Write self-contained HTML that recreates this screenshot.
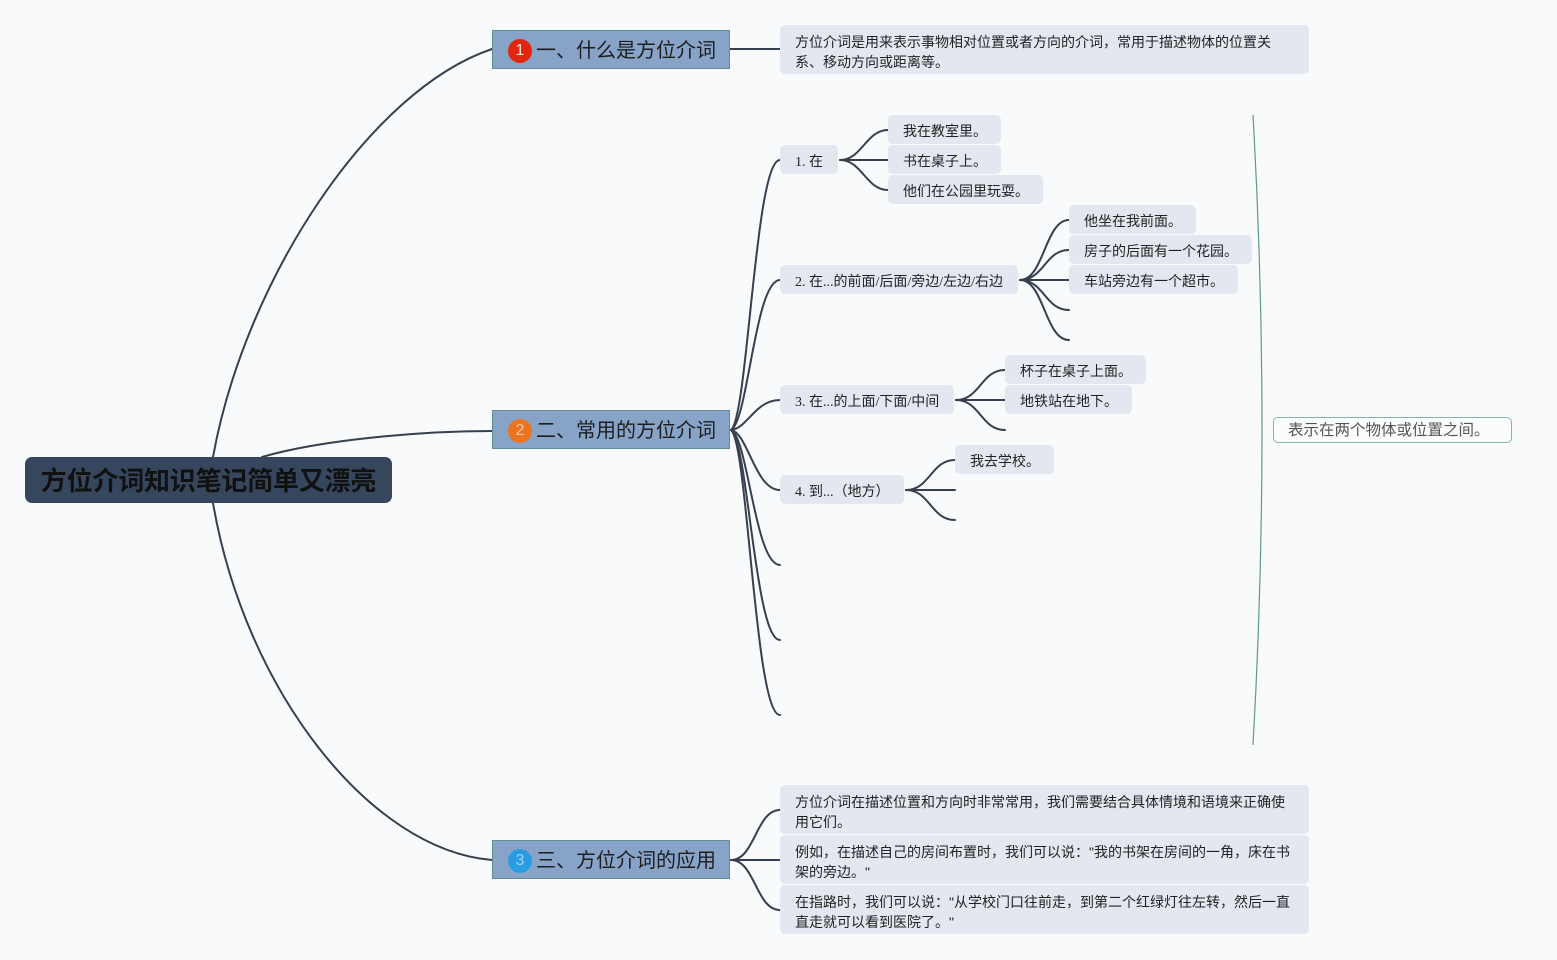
<!DOCTYPE html>
<html>
<head>
<meta charset="utf-8">
<style>
  html, body { margin: 0; padding: 0; }
  body {
    width: 1557px; height: 960px; position: relative; overflow: hidden;
    background: #f9fafb;
    font-family: "Liberation Sans", "Noto Sans CJK SC", sans-serif;
  }
  svg.lines { position: absolute; left: 0; top: 0; }
  .root {
    position: absolute; left: 25px; top: 457px; width: 367px; height: 46px;
    background: #36465d; border-radius: 7px;
    font-weight: bold; font-size: 26px; line-height: 48px; color: #111;
    text-align: center; letter-spacing: -0.2px;
  }
  .l1 {
    position: absolute; left: 492px; width: 236px; height: 37px;
    background: #87a3c8; border: 1px solid #5f8f95;
    font-size: 20px; line-height: 41px; color: #1e1e1e;
  }
  .l1 .ic {
    position: absolute; left: 15px; top: 8px; width: 24px; height: 24px; border-radius: 50%;
    font-size: 16px; line-height: 24px; text-align: center; color: #fbe4dc;
  }
  .l1 .tx { position: absolute; left: 43px; top: 0; white-space: nowrap; }
  .box {
    position: absolute; background: #e3e8f0; border-radius: 5px;
    font-size: 14px; color: #222; white-space: nowrap;
    box-sizing: border-box; padding-left: 15px;
  }
  .s { height: 29px; line-height: 32px; }
  .serif { font-family: "Liberation Serif", "Noto Sans CJK SC", serif; line-height: 35px; }
  .d { height: 49px; line-height: 20px; padding-top: 7px; white-space: normal; padding-right: 14px; }
  .sum {
    position: absolute; left: 1273px; top: 417px; width: 239px; height: 26px;
    box-sizing: border-box; border: 1px solid #86b3a2; border-radius: 5px; background: #fbfcfc;
    font-size: 15.5px; line-height: 26px; color: #555; padding-left: 14px; white-space: nowrap;
  }
</style>
</head>
<body>
<svg class="lines" width="1557" height="960" viewBox="0 0 1557 960">
  <g fill="none" stroke="#36404f" stroke-width="2" stroke-linecap="round">
    <path d="M213,457 C245,280 370,90 492,49"/>
    <path d="M262,457 C320,440 420,431 492,431"/>
    <path d="M213,503 C245,690 370,850 492,860"/>
    <path d="M730,49 L780,49"/>
    <path d="M731,430 C748,417 755,160 780,160"/>
    <path d="M731,430 C748,422 755,280 780,280"/>
    <path d="M731,430 C748,428 755,400 780,400"/>
    <path d="M731,430 C748,433 755,490 780,490"/>
    <path d="M731,430 C748,437 755,565 780,565"/>
    <path d="M731,430 C748,441 755,640 780,640"/>
    <path d="M731,430 C748,444 755,715 780,715"/>
    <path d="M840,160 C862,160 866,130 888,130"/>
    <path d="M840,160 L888,160"/>
    <path d="M840,160 C862,160 866,190 888,190"/>
    <path d="M1020,280 C1044,280 1045,220 1069,220"/>
    <path d="M1020,280 C1044,280 1045,250 1069,250"/>
    <path d="M1020,280 L1069,280"/>
    <path d="M1020,280 C1044,280 1045,310 1069,310"/>
    <path d="M1020,280 C1044,280 1045,340 1069,340"/>
    <path d="M956,400 C980,400 981,370 1005,370"/>
    <path d="M956,400 L1005,400"/>
    <path d="M956,400 C980,400 981,430 1005,430"/>
    <path d="M906,490 C930,490 931,460 955,460"/>
    <path d="M906,490 L955,490"/>
    <path d="M906,490 C930,490 931,520 955,520"/>
    <path d="M731,860 C755,860 756,810 780,810"/>
    <path d="M731,860 L780,860"/>
    <path d="M731,860 C755,860 756,910 780,910"/>
  </g>
  <path d="M1253,115 Q1271,430 1253,745" fill="none" stroke="#5f9c84" stroke-width="1.2"/>
</svg>

<div class="root">方位介词知识笔记简单又漂亮</div>

<div class="l1" style="top:30px;"><div class="ic" style="background:#e2250f;">1</div><div class="tx">一、什么是方位介词</div></div>
<div class="l1" style="top:410px;"><div class="ic" style="background:#ec7420;color:#f6c9a6;">2</div><div class="tx">二、常用的方位介词</div></div>
<div class="l1" style="top:840px;"><div class="ic" style="background:#2a9de2;color:#9fd3f3;">3</div><div class="tx">三、方位介词的应用</div></div>

<div class="box d" style="left:780px;top:25px;width:529px;">方位介词是用来表示事物相对位置或者方向的介词，常用于描述物体的位置关<br>系、移动方向或距离等。</div>

<div class="box s serif" style="left:780px;top:145px;width:58px;">1. 在</div>
<div class="box s serif" style="left:780px;top:265px;width:238px;">2. 在...的前面/后面/旁边/左边/右边</div>
<div class="box s serif" style="left:780px;top:385px;width:174px;">3. 在...的上面/下面/中间</div>
<div class="box s serif" style="left:780px;top:475px;width:124px;">4. 到...（地方）</div>

<div class="box s" style="left:888px;top:115px;width:113px;">我在教室里。</div>
<div class="box s" style="left:888px;top:145px;width:113px;">书在桌子上。</div>
<div class="box s" style="left:888px;top:175px;width:155px;">他们在公园里玩耍。</div>

<div class="box s" style="left:1069px;top:205px;width:127px;">他坐在我前面。</div>
<div class="box s" style="left:1069px;top:235px;width:183px;">房子的后面有一个花园。</div>
<div class="box s" style="left:1069px;top:265px;width:169px;">车站旁边有一个超市。</div>

<div class="box s" style="left:1005px;top:355px;width:141px;">杯子在桌子上面。</div>
<div class="box s" style="left:1005px;top:385px;width:127px;">地铁站在地下。</div>

<div class="box s" style="left:955px;top:445px;width:99px;">我去学校。</div>

<div class="sum">表示在两个物体或位置之间。</div>

<div class="box d" style="left:780px;top:785px;width:529px;">方位介词在描述位置和方向时非常常用，我们需要结合具体情境和语境来正确使<br>用它们。</div>
<div class="box d" style="left:780px;top:835px;width:529px;">例如，在描述自己的房间布置时，我们可以说："我的书架在房间的一角，床在书<br>架的旁边。"</div>
<div class="box d" style="left:780px;top:885px;width:529px;">在指路时，我们可以说："从学校门口往前走，到第二个红绿灯往左转，然后一直<br>直走就可以看到医院了。"</div>
</body>
</html>
